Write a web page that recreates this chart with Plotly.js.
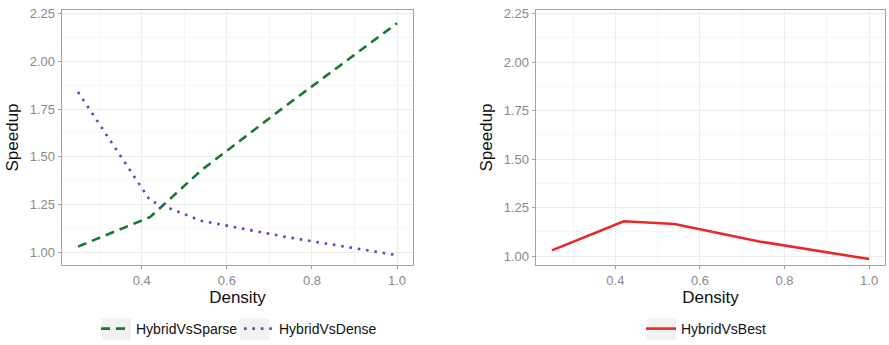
<!DOCTYPE html>
<html>
<head>
<meta charset="utf-8">
<script src="https://cdn.plot.ly/plotly-3.0.1.min.js"></script>
<style>
  html, body { margin: 0; padding: 0; background: #fff; }
  #chart { width: 889px; height: 345px; }
</style>
</head>
<body>
<div id="chart"></div>
<script>
// Matrix density for each benchmark input
const density = [0.25, 0.42, 0.54, 0.74, 1.0];

// Speedup of the hybrid kernel over each baseline
const hybridVsSparse = [1.03, 1.185, 1.43, 1.77, 2.2];
const hybridVsDense  = [1.84, 1.27, 1.165, 1.08, 0.985];
const hybridVsBest   = [1.03, 1.18, 1.166, 1.076, 0.985];

const W = 889, H = 345;
const px = v => v / W;
const py = v => 1 - v / H;

const font = 'Liberation Sans, Arial, Helvetica, sans-serif';
const tickGrey = '#8a8a8a';
const frameGrey = '#a3a3a3';

function axisX(domain, anchor) {
  return {
    domain: domain, anchor: anchor,
    range: [0.2125, 1.0375], dtick: 0.2, tick0: 0, tickformat: '.1f',
    showgrid: true, gridcolor: '#ececec', gridwidth: 1,
    minor: { dtick: 0.1, tick0: 0, showgrid: true, gridcolor: '#f6f6f6', gridwidth: 1, ticks: '' },
    showline: true, mirror: true, linecolor: frameGrey, linewidth: 1.3,
    ticks: 'outside', ticklen: 3, tickcolor: frameGrey, tickwidth: 1,
    tickfont: { family: font, size: 13, color: tickGrey },
    zeroline: false,
    title: { text: 'Density', font: { family: font, size: 17, color: '#111' }, standoff: 3 }
  };
}

function axisY(domain, anchor, range) {
  return {
    domain: domain, anchor: anchor,
    range: range, dtick: 0.25, tick0: 0, tickformat: '.2f',
    showgrid: true, gridcolor: '#ececec', gridwidth: 1,
    minor: { dtick: 0.125, tick0: 0, showgrid: true, gridcolor: '#f6f6f6', gridwidth: 1, ticks: '' },
    showline: true, mirror: true, linecolor: frameGrey, linewidth: 1.3,
    ticks: 'outside', ticklen: 3, tickcolor: frameGrey, tickwidth: 1,
    tickfont: { family: font, size: 13, color: tickGrey },
    zeroline: false,
    title: { text: 'Speedup', font: { family: font, size: 17, color: '#111' }, standoff: 6 }
  };
}

const traces = [
  {
    x: density, y: hybridVsSparse, name: 'HybridVsSparse',
    type: 'scatter', mode: 'lines', xaxis: 'x', yaxis: 'y', legend: 'legend',
    line: { color: '#167a30', width: 2.6, dash: '9px,6px' }
  },
  {
    x: density, y: hybridVsDense, name: 'HybridVsDense',
    type: 'scatter', mode: 'lines', xaxis: 'x', yaxis: 'y', legend: 'legend',
    line: { color: '#4c4fc6', width: 2.6, dash: '2.6px,5.8px' }
  },
  {
    x: density, y: hybridVsBest, name: 'HybridVsBest',
    type: 'scatter', mode: 'lines', xaxis: 'x2', yaxis: 'y2', legend: 'legend2',
    line: { color: '#e8282b', width: 2.6 }
  }
];

const legendFont = { family: font, size: 14, color: '#111' };

// light key backgrounds behind legend swatches
const keyBoxes = [[102, 131], [240, 269], [647, 676]].map(([a, b]) => ({
  type: 'rect', xref: 'paper', yref: 'paper', layer: 'below',
  x0: px(a), x1: px(b), y0: py(345), y1: py(323),
  fillcolor: '#f2f2f2', line: { width: 0 }
}));

const layout = {
  width: W, height: H,
  margin: { l: 0, r: 0, t: 0, b: 0 },
  paper_bgcolor: '#fff', plot_bgcolor: '#fff',
  xaxis: axisX([px(62), px(413)], 'y'),
  yaxis: axisY([py(269), py(10)], 'x', [0.933, 2.27]),
  xaxis2: axisX([px(536), px(885)], 'y2'),
  yaxis2: axisY([py(269), py(10)], 'x2', [0.954, 2.27]),
  showlegend: true,
  legend: {
    orientation: 'h', x: px(96), xanchor: 'left', y: py(334), yanchor: 'middle',
    font: legendFont, bgcolor: 'rgba(0,0,0,0)', itemwidth: 30,
    entrywidth: 98, entrywidthmode: 'pixels',
    traceorder: 'normal'
  },
  legend2: {
    orientation: 'h', x: px(641), xanchor: 'left', y: py(334), yanchor: 'middle',
    font: legendFont, bgcolor: 'rgba(0,0,0,0)', itemwidth: 30
  },
  shapes: keyBoxes
};

Plotly.newPlot('chart', traces, layout, { displayModeBar: false, staticPlot: true });
</script>
</body>
</html>
